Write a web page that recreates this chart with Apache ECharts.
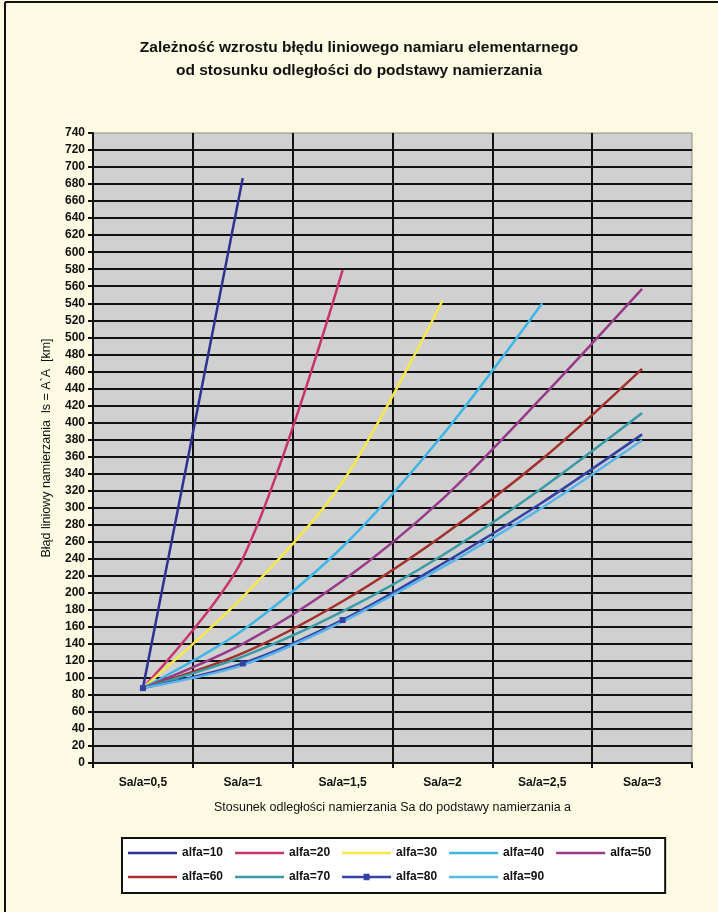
<!DOCTYPE html>
<html>
<head>
<meta charset="utf-8">
<script src="https://cdn.jsdelivr.net/npm/echarts@6/dist/echarts.min.js"></script>
<style>
  html, body { margin: 0; padding: 0; background: #fdfbe3; }
  #chart { width: 718px; height: 912px; }
</style>
</head>
<body>
<div id="chart"></div>
<script>
// Ratio of bearing distance to bearing base (x categories)
const categories = ['Sa/a=0,5', 'Sa/a=1', 'Sa/a=1,5', 'Sa/a=2', 'Sa/a=2,5', 'Sa/a=3'];

// Linear error of an elementary bearing [km] for each angle alfa
const alfa10 = [88, 687, null, null, null, null];
const alfa20 = [88, 240, 579, null, null, null];
const alfa30 = [88, 195, 330, 543, null, null];
const alfa40 = [88, 156, 254, 385, 540, null];
const alfa50 = [88, 140, 214, 310, 430, 557];
const alfa60 = [88, 129, 190, 267, 357, 463];
const alfa70 = [88, 125, 178, 244, 323, 411];
const alfa80 = [88, 117, 168, 234, 306, 386];
const alfa90 = [88, 115, 166, 230, 300, 379];

const seriesNames = ['alfa=10', 'alfa=20', 'alfa=30', 'alfa=40', 'alfa=50',
                     'alfa=60', 'alfa=70', 'alfa=80', 'alfa=90'];
const seriesData = [alfa10, alfa20, alfa30, alfa40, alfa50, alfa60, alfa70, alfa80, alfa90];
const seriesColors = ['#2e3190', '#c8336c', '#f6e84a', '#3cb6e6', '#983a8a',
                      '#a2302c', '#3a9aa6', '#3442a4', '#58b4ec'];

// The alfa=80 series carries square markers on its first points
const markedSeries = 7;
const markedPoints = 3;

const yMin = 0, yMax = 740, yStep = 20;

const font = '"Liberation Sans", Arial, sans-serif';

// Legend glyphs: a plain stroke, and a stroke with a square marker for the marked series
const lineIcon = 'path://M0,0 h49 v2.5 h-49 Z';
const markedIcon = 'path://M0,2 h21.5 v-2 h6 v2 h21.5 v2.5 h-21.5 v2 h-6 v-2 h-21.5 Z';

const series = seriesData.map((d, i) => ({
  name: seriesNames[i],
  type: 'line',
  data: i === markedSeries
    ? d.map((v, k) => ({ value: v, symbol: k < markedPoints ? 'rect' : 'none' }))
    : d,
  smooth: 0.3,
  connectNulls: false,
  symbol: i === markedSeries ? 'rect' : 'none',
  symbolSize: 6,
  showSymbol: i === markedSeries,
  lineStyle: { width: 2.5, color: seriesColors[i] },
  itemStyle: { color: seriesColors[i] },
  z: 3
}));

const chart = echarts.init(document.getElementById('chart'), null, { renderer: 'canvas' });
chart.setOption({
  backgroundColor: '#fdfbe3',
  animation: false,
  textStyle: { fontFamily: font },
  title: {
    text: 'Zależność wzrostu błędu liniowego namiaru elementarnego\nod stosunku odległości do podstawy namierzania',
    left: 'center',
    top: 31,
    textStyle: { fontSize: 15.5, fontWeight: 'bold', color: '#111', lineHeight: 23, fontFamily: font }
  },
  graphic: [
    { type: 'line', shape: { x1: 5, y1: 2, x2: 718, y2: 2 }, style: { stroke: '#111', lineWidth: 2 } },
    { type: 'line', shape: { x1: 5, y1: 2, x2: 5, y2: 912 }, style: { stroke: '#111', lineWidth: 2 } }
  ],
  grid: {
    left: 93, right: 26, top: 133, bottom: 149,
    show: true,
    backgroundColor: '#d0d0d0',
    borderColor: '#8a8a8a',
    borderWidth: 1
  },
  legend: {
    left: 122,
    top: 838,
    width: 525,
    padding: [9, 14, 10, 6],
    itemGap: 12,
    itemWidth: 49,
    itemHeight: 8,
    symbolKeepAspect: true,
    borderColor: '#111',
    borderWidth: 2,
    backgroundColor: '#ffffff',
    textStyle: { fontSize: 12, fontWeight: 'bold', color: '#111', fontFamily: font },
    data: seriesNames.map((n, i) => ({ name: n, icon: i === markedSeries ? markedIcon : lineIcon }))
  },
  xAxis: {
    type: 'category',
    data: categories,
    boundaryGap: true,
    axisLine: { lineStyle: { color: '#111', width: 2 } },
    axisTick: { show: true, length: 5, lineStyle: { color: '#111', width: 2 } },
    axisLabel: { fontSize: 12, fontWeight: 'bold', color: '#111', margin: 14, fontFamily: font },
    splitLine: { show: true, showMaxLine: false, lineStyle: { color: '#111', width: 2 } },
    name: 'Stosunek odległości namierzania Sa do podstawy namierzania a',
    nameLocation: 'middle',
    nameGap: 38,
    nameTextStyle: { fontSize: 12.5, color: '#111', fontFamily: font }
  },
  yAxis: {
    type: 'value',
    min: yMin,
    max: yMax,
    interval: yStep,
    axisLine: { show: true, lineStyle: { color: '#111', width: 2 } },
    axisTick: { show: true, length: 5, lineStyle: { color: '#111', width: 2 } },
    axisLabel: { fontSize: 12, fontWeight: 'bold', color: '#111', margin: 8, fontFamily: font },
    splitLine: { show: true, showMaxLine: false, lineStyle: { color: '#111', width: 2 } },
    name: 'Błąd liniowy namierzania  ls = A`A  [km]',
    nameLocation: 'middle',
    nameGap: 40,
    nameTextStyle: { fontSize: 12.5, color: '#111', fontFamily: font }
  },
  series: series
});
</script>
</body>
</html>
